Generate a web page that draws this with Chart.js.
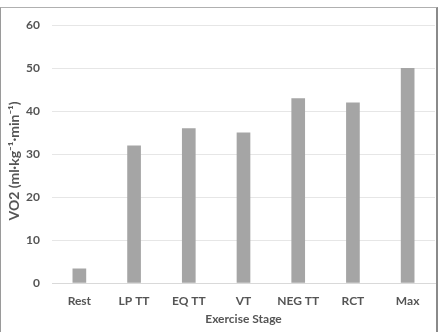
<!DOCTYPE html>
<html>
<head>
<meta charset="utf-8">
<script src="https://cdn.jsdelivr.net/npm/chart.js@4/dist/chart.umd.min.js"></script>
<style>
  body { margin: 0; background: #fff; }
  #frame {
    position: absolute; left: 0; top: 7px; width: 435px; height: 330px;
    border-left: 1px solid #9a9a9a; border-top: 1px solid #b0b0b0; border-right: 2px solid #8a8a8a;
  }
  #wrap { position: absolute; left: 0; top: 0; width: 443px; height: 332px; }
</style>
</head>
<body>
<div id="frame"></div>
<div id="wrap"><canvas id="mycanvas"></canvas></div>
<script>
var stages = ['Rest', 'LP TT', 'EQ TT', 'VT', 'NEG TT', 'RCT', 'Max'];
var vo2 = [3.4, 32, 36, 35, 43, 42, 50];
var yTicks = [0, 10, 20, 30, 40, 50, 60];

var grey = '#555555';
var tickFont = { family: 'Lato', size: 12, weight: 'bold' };

var chartdata = {
  labels: stages,
  datasets: [{
    label: 'VO2',
    backgroundColor: '#a5a5a5',
    borderWidth: 0,
    data: vo2,
    barPercentage: 0.25,
    categoryPercentage: 1
  }]
};

var ctx = document.getElementById('mycanvas');
var barGraph = new Chart(ctx, {
  type: 'bar',
  data: chartdata,
  options: {
    responsive: true,
    maintainAspectRatio: false,
    animation: false,
    layout: { padding: { top: 25, right: 8, bottom: 6, left: 6 } },
    plugins: { legend: { display: false }, tooltip: { enabled: false } },
    scales: {
      x: {
        grid: { display: false },
        border: { color: '#d9d9d9' },
        ticks: { color: grey, font: tickFont, padding: 3 },
        title: { display: true, text: 'Exercise Stage', color: grey, font: tickFont, padding: { top: 0, bottom: 0 } }
      },
      y: {
        min: yTicks[0],
        max: yTicks[yTicks.length - 1],
        afterBuildTicks: function(axis) {
          axis.ticks = yTicks.map(function(v) { return { value: v }; });
        },
        afterFit: function(axis) { axis.width = 46; },
        grid: { color: '#e6e6e6', drawTicks: false },
        border: { display: false },
        ticks: { color: grey, font: tickFont, padding: 12 },
        title: { display: true, text: 'VO2 (ml·kg⁻¹·min⁻¹)    ', color: grey, font: { family: 'Lato', size: 14, weight: 'bold' }, padding: { top: 0, bottom: 2 } }
      }
    }
  }
});
</script>
</body>
</html>
